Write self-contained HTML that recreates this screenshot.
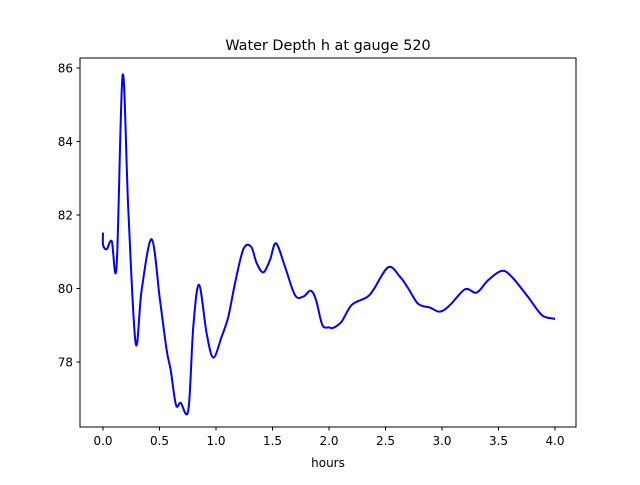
<!DOCTYPE html>
<html><head><meta charset="utf-8"><style>
body{margin:0;background:#fff;}
svg text{font-family:"DejaVu Sans","Liberation Sans",sans-serif;fill:#000;}
</style></head><body>
<svg id="chart" width="640" height="480" xmlns="http://www.w3.org/2000/svg">
<rect width="640" height="480" fill="#fff"/>
<text x="328" y="50" font-size="14.4" text-anchor="middle">Water Depth h at gauge 520</text>
<g id="ticks"></g>
<path id="series" fill="none" stroke="#0000ff" stroke-width="2" stroke-linejoin="round"/>
<rect x="80" y="58" width="496" height="369" fill="none" stroke="#000" stroke-width="1"/>
<text x="328" y="467" font-size="12" text-anchor="middle">hours</text>
</svg>
<script>
const hours=[0,0.001,0.033,0.077,0.121,0.174,0.224,0.289,0.342,0.431,0.504,0.563,0.599,0.646,0.687,0.755,0.799,0.850,0.917,0.976,1.05,1.109,1.168,1.242,1.31,1.36,1.419,1.478,1.531,1.611,1.699,1.773,1.838,1.885,1.941,2.003,2.038,2.112,2.20,2.333,2.392,2.525,2.628,2.702,2.79,2.894,2.982,3.071,3.204,3.307,3.41,3.528,3.617,3.764,3.882,3.985,4.0];
const depth=[81.52,81.18,81.07,81.29,80.64,85.81,82.14,78.51,79.96,81.34,79.69,78.33,77.78,76.83,76.89,76.69,78.96,80.1,78.78,78.12,78.69,79.23,80.14,81.07,81.14,80.69,80.44,80.78,81.23,80.59,79.82,79.78,79.94,79.69,79.01,78.94,78.93,79.10,79.55,79.76,79.96,80.58,80.32,80.0,79.58,79.48,79.37,79.55,79.98,79.89,80.23,80.48,80.32,79.76,79.28,79.18,79.18];
const xTicks=[0,0.5,1,1.5,2,2.5,3,3.5,4];
const yTicks=[78,80,82,84,86];
const X=t=>103+t*113;
const Y=v=>288.5-(v-80)*36.75;
const NS="http://www.w3.org/2000/svg";
const g=document.getElementById('ticks');
function mk(tag,attrs){const e=document.createElementNS(NS,tag);for(const k in attrs)e.setAttribute(k,attrs[k]);g.appendChild(e);return e;}
xTicks.forEach(t=>{
 const l=mk('line',{x1:X(t),x2:X(t),y1:427,y2:430.5,stroke:'#000'});
 
 
 const tx=mk('text',{x:X(t),y:445,'font-size':'12','text-anchor':'middle'});
 tx.textContent=t.toFixed(1);
 
 
});
yTicks.forEach(v=>{
 const l=mk('line',{x1:76.5,x2:80,y1:Y(v),y2:Y(v),stroke:'#000'});
 
 
 const tx=mk('text',{x:73,y:Y(v)+4.5,'font-size':'12','text-anchor':'end'});
 tx.textContent=v;
 
 
});
const P=hours.map((t,i)=>[X(t),Y(depth[i])]);
let d='M'+P[0][0]+','+P[0][1];
for(let i=0;i<P.length-1;i++){
 const p0=P[Math.max(0,i-1)],p1=P[i],p2=P[i+1],p3=P[Math.min(P.length-1,i+2)];
 const k=1/6;
 d+=' C'+(p1[0]+(p2[0]-p0[0])*k)+','+(p1[1]+(p2[1]-p0[1])*k)+' '+(p2[0]-(p3[0]-p1[0])*k)+','+(p2[1]-(p3[1]-p1[1])*k)+' '+p2[0]+','+p2[1];
}
document.getElementById('series').setAttribute('d',d);
</script>
</body></html>
